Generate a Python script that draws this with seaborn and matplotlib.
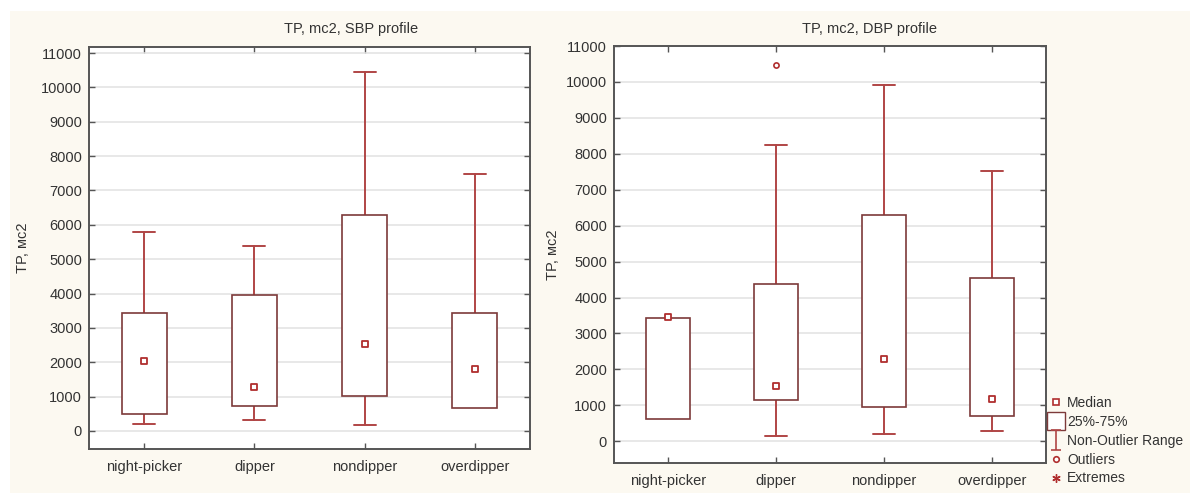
import numpy as np
import pandas as pd
import matplotlib
matplotlib.use("Agg")
import matplotlib.pyplot as plt
import seaborn as sns
from matplotlib.lines import Line2D
from matplotlib.patches import Rectangle
from matplotlib.path import Path

# ---------------- data ----------------
categories = ["night-picker", "dipper", "nondipper", "overdipper"]

# SBP profile
sbp_whislo = [195, 310, 165, 660]
sbp_q1 = [485, 718, 1030, 660]
sbp_med = [2050, 1270, 2535, 1795]
sbp_q3 = [3447, 3970, 6290, 3447]
sbp_whishi = [5780, 5390, 10456, 7490]
sbp_outliers = [[], [], [], []]

# DBP profile
dbp_whislo = [631, 158, 195, 297]
dbp_q1 = [631, 1160, 965, 714]
dbp_med = [3465, 1531, 2282, 1169]
dbp_q3 = [3432, 4369, 6290, 4555]
dbp_whishi = [3432, 8237, 9926, 7514]
dbp_outliers = [[], [10464], [], []]

titles = ["TP, mc2, SBP profile", "TP, mc2, DBP profile"]
ylabel = "TP, мс2"
yticks = list(range(0, 11001, 1000))
legend_labels = ["Median", "25%-75%", "Non-Outlier Range", "Outliers", "Extremes"]

# ---------------- style ----------------
sns.set_theme(style="white")
plt.rcParams["font.family"] = ["Liberation Sans", "DejaVu Sans"]
TXT = "#333333"
CREAM = "#fcf9f1"
BOXC = "#7d3a3a"
WHISC = "#b04545"
MEDC = "#b02e2e"

W, H = 1190, 493
fig = plt.figure(figsize=(W / 100, H / 100), dpi=100)
fig.patch.set_facecolor(CREAM)
# white margins at top/left
fig.patches.append(Rectangle((0, 1 - 11 / H), 1, 11 / H, transform=fig.transFigure,
                             facecolor="white", edgecolor="none", zorder=0))
fig.patches.append(Rectangle((0, 0), 10 / W, 1, transform=fig.transFigure,
                             facecolor="white", edgecolor="none", zorder=0))


def px_axes(l, t, r, b):
    return fig.add_axes([l / W, 1 - b / H, (r - l) / W, (b - t) / H])


ax1 = px_axes(89, 47, 530, 449)
ax2 = px_axes(614, 46, 1046, 463)

panels = [
    (ax1, sbp_whislo, sbp_q1, sbp_med, sbp_q3, sbp_whishi, sbp_outliers, (-524, 11175), -0.1497),
    (ax2, dbp_whislo, dbp_q1, dbp_med, dbp_q3, dbp_whishi, dbp_outliers, (-604, 11000), -0.141),
]

title_x = [351, 870]

for i, (ax, wlo, q1, med, q3, whi, outl, ylim, lblx) in enumerate(panels):
    ax.set_facecolor("white")
    stats = []
    for j, c in enumerate(categories):
        stats.append(dict(label=c, whislo=wlo[j], q1=q1[j], med=med[j], q3=q3[j],
                          whishi=whi[j], fliers=[]))
    pos = np.arange(len(categories))
    art = ax.bxp(stats, positions=pos, widths=0.41, capwidths=0.2, showfliers=False,
                 patch_artist=True, manage_ticks=False,
                 boxprops=dict(facecolor="white", edgecolor=BOXC, linewidth=1.2),
                 whiskerprops=dict(color=WHISC, linewidth=1.4),
                 capprops=dict(color=WHISC, linewidth=1.4),
                 medianprops=dict(linewidth=0, alpha=0))
    # hide caps where no whisker exists
    for j in range(len(categories)):
        if wlo[j] >= q1[j]:
            art["caps"][2 * j].set_visible(False)
            art["whiskers"][2 * j].set_visible(False)
        if whi[j] <= q3[j]:
            art["caps"][2 * j + 1].set_visible(False)
            art["whiskers"][2 * j + 1].set_visible(False)
    for b in art["boxes"]:
        b.set_zorder(3)

    # medians via seaborn
    mdf = pd.DataFrame({"pos": pos, "val": med})
    sns.scatterplot(data=mdf, x="pos", y="val", ax=ax, marker="s", s=18,
                    facecolor="white", edgecolor=MEDC, linewidth=1.3, zorder=5)
    # outliers
    ox, oy = [], []
    for j, vals in enumerate(outl):
        for v in vals:
            ox.append(pos[j]); oy.append(v)
    if ox:
        odf = pd.DataFrame({"pos": ox, "val": oy})
        sns.scatterplot(data=odf, x="pos", y="val", ax=ax, marker="o", s=14,
                        facecolor="white", edgecolor=MEDC, linewidth=1.2, zorder=5)

    ax.set_xlim(-0.5, len(categories) - 0.5)
    ax.set_ylim(*ylim)
    ax.set_xticks(pos)
    ax.set_xticklabels(categories, fontsize=10.5, color=TXT)
    ax.set_yticks(yticks)
    ax.set_yticklabels([str(t) for t in yticks], fontsize=10.5, color=TXT)
    ax.yaxis.grid(True, color="#e2e2e2", linewidth=1.1)
    ax.xaxis.grid(False)
    ax.set_axisbelow(True)
    ax.set_xlabel("")
    ax.set_ylabel(ylabel, fontsize=10.5, color=TXT)
    ax.yaxis.label.set_verticalalignment("center")
    ax.yaxis.set_label_coords(lblx, 0.5)
    for s in ax.spines.values():
        s.set_visible(True)
        s.set_color("#555555")
        s.set_linewidth(1.4)
    ax.tick_params(axis="y", which="both", left=True, right=True, direction="in",
                   length=4, width=1, color="#555555", pad=5)
    ax.tick_params(axis="x", which="both", bottom=True, top=True, direction="in",
                   length=4, width=1, color="#555555", pad=8)
    fig.text(title_x[i] / W, 1 - 29 / H, titles[i], ha="center", va="center",
             fontsize=10.5, color=TXT)

# ---------------- legend ----------------
ibeam = Path([(-0.5, 1), (0.5, 1), (0, 1), (0, -1), (-0.5, -1), (0.5, -1)],
             [Path.MOVETO, Path.LINETO, Path.MOVETO, Path.LINETO, Path.MOVETO, Path.LINETO])
handles = [
    Line2D([], [], linestyle="none", marker="s", markersize=4.5, markerfacecolor="white",
           markeredgecolor=MEDC, markeredgewidth=1.2),
    Line2D([], [], linestyle="none", marker="s", markersize=13, markerfacecolor="white",
           markeredgecolor=BOXC, markeredgewidth=1.0),
    Line2D([], [], linestyle="none", marker=ibeam, markersize=14, markerfacecolor="none",
           markeredgecolor=WHISC, markeredgewidth=1.2),
    Line2D([], [], linestyle="none", marker="o", markersize=4, markerfacecolor="white",
           markeredgecolor=MEDC, markeredgewidth=1.2),
    Line2D([], [], linestyle="none", marker=(6, 2, 0), markersize=6, markerfacecolor="none",
           markeredgecolor=MEDC, markeredgewidth=1.0),
]
leg = fig.legend(handles, legend_labels, loc="upper left",
                 bbox_to_anchor=(1049 / W, 1 - 396 / H), frameon=False,
                 fontsize=10, handlelength=1.0, handletextpad=0.3,
                 labelspacing=0.35, borderpad=0, borderaxespad=0)
for t in leg.get_texts():
    t.set_color(TXT)

fig.savefig("out.png", dpi=100, facecolor=fig.get_facecolor())
